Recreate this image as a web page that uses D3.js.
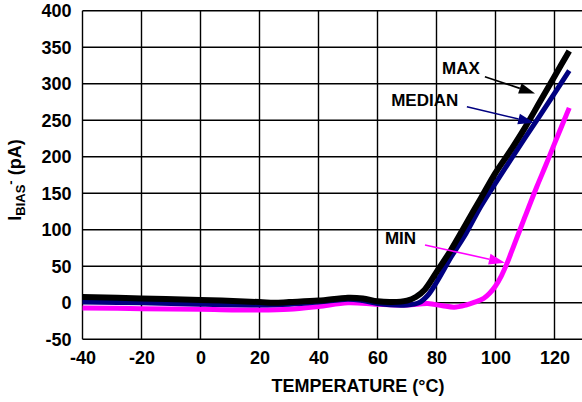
<!DOCTYPE html>
<html><head><meta charset="utf-8">
<script src="https://cdn.jsdelivr.net/npm/d3@7"></script>
<style>
html,body{margin:0;padding:0;background:#fff;overflow:hidden}
svg{display:block}
text{font-family:"Liberation Sans",Arial,sans-serif;font-weight:bold}
</style></head>
<body><svg id="c" width="582" height="402"></svg>
<script>
const xTicks = [-40,-20,0,20,40,60,80,100,120];
const yTicks = [-50,0,50,100,150,200,250,300,350,400];

const maxTemp = [-40,-20,0,20,25,30,40,50,55,60,65,70,73,76,80,85,90,95,100,105,110,115,120,125];
const maxVals = [8,6,4,1,0,1,3,7,6,2,1,3,8,18,42,73,108,143,178,208,240,275,310,345];

const medTemp = [-40,-20,0,20,30,40,50,55,60,70,74,77,80,85,90,95,100,105,110,115,120,125];
const medVals = [1,0,-2,-3,-2,1,5,3,-1,-3,0,10,28,63,95,132,164,195,226,256,287,318];

const minTemp = [-40,-20,0,20,30,40,50,60,70,77,82,86,90,93,96,98,100,102,104,106,108,110,114,117,120,125];
const minVals = [-7,-8,-9,-10,-9,-5,0,-2,-3,-1,-4,-6,-3,1,6,13,23,37,55,76,97,118,159,188,218,267];

const seriesNames = ["MIN","MEDIAN","MAX"];
const seriesColors = ["#ff00ff","#000080","#000000"];

// annotation: label anchor and arrow (data units)
const annLabels = ["MAX","MEDIAN","MIN"];
const annText = [[88.3,321],[76,276.5],[67.8,88.4]];
const annFrom = [[96.4,309.7],[90.3,268.6],[76.1,79.2]];
const annTo = [[113.4,286.8],[113.1,246.7],[103.2,55]];
const annColors = ["#000000","#000080","#ff00ff"];

const svg = d3.select("#c");
const x = d3.scaleLinear().domain([-40,130]).range([82.5,584]);
const y = d3.scaleLinear().domain([-50,400]).range([339.3,10.8]);
const xL = 82.5, xR = 582;
const fmt = d => String(d);

// grid
const g = svg.append("g");
g.selectAll(".hg").data(yTicks).enter().append("line")
  .attr("x1",xL).attr("x2",xR).attr("y1",d=>y(d)).attr("y2",d=>y(d))
  .attr("stroke","#000").attr("stroke-width",1.4);
g.selectAll(".vg").data(xTicks).enter().append("line")
  .attr("x1",d=>x(d)).attr("x2",d=>x(d)).attr("y1",y(400)).attr("y2",y(-50))
  .attr("stroke","#000").attr("stroke-width",1.4);

// axes labels via d3 axes
const yAxis = svg.append("g").attr("transform",`translate(${xL},0)`)
  .call(d3.axisLeft(y).tickValues(yTicks).tickFormat(fmt).tickSize(0).tickPadding(11));
yAxis.select(".domain").remove();
yAxis.selectAll("text").attr("font-size",18).attr("fill","#000")
  .style("font-family","'Liberation Sans',Arial,sans-serif").style("font-weight","bold");
const xAxis = svg.append("g").attr("transform",`translate(0,${y(-50)})`)
  .call(d3.axisBottom(x).tickValues(xTicks).tickFormat(fmt).tickSize(0).tickPadding(12));
xAxis.select(".domain").remove();
xAxis.selectAll("text").attr("font-size",18).attr("fill","#000")
  .style("font-family","'Liberation Sans',Arial,sans-serif").style("font-weight","bold");

// curves
const data = [
  minTemp.map((t,i)=>[t,minVals[i]]),
  medTemp.map((t,i)=>[t,medVals[i]]),
  maxTemp.map((t,i)=>[t,maxVals[i]])
];
const widths = [5,5,6];
const line = d3.line().x(d=>x(d[0])).y(d=>y(d[1])).curve(d3.curveCatmullRom.alpha(0.5));
data.forEach((s,i)=>{
  svg.append("path").datum(s).attr("d",line).attr("fill","none")
    .attr("stroke",seriesColors[i]).attr("stroke-width",widths[i])
    .attr("stroke-linejoin","round").attr("class","series-"+seriesNames[i]);
});

// annotations
annLabels.forEach((lab,i)=>{
  svg.append("text").attr("x",x(annText[i][0])).attr("y",y(annText[i][1]))
    .attr("text-anchor","middle").attr("dominant-baseline","central")
    .attr("font-size",17).attr("fill","#000").text(lab);
  const x1=x(annFrom[i][0]), y1=y(annFrom[i][1]), x2=x(annTo[i][0]), y2=y(annTo[i][1]);
  const ang=Math.atan2(y2-y1,x2-x1), L=16, W=5.5;
  const bx=x2-L*Math.cos(ang), by=y2-L*Math.sin(ang);
  svg.append("line").attr("x1",x1).attr("y1",y1).attr("x2",bx).attr("y2",by)
    .attr("stroke",annColors[i]).attr("stroke-width",1.6);
  const px=-Math.sin(ang), py=Math.cos(ang);
  svg.append("path").attr("d",`M${x2},${y2}L${bx+px*W},${by+py*W}L${bx-px*W},${by-py*W}Z`)
    .attr("fill",annColors[i]);
});

// axis titles
svg.append("text").attr("x",358).attr("y",392).attr("text-anchor","middle")
  .attr("font-size",18).attr("fill","#000").text("TEMPERATURE (°C)");
const yl = svg.append("text").attr("transform","translate(21,180) rotate(-90)")
  .attr("text-anchor","middle").attr("font-size",18).attr("fill","#000");
yl.append("tspan").text("I");
yl.append("tspan").attr("font-size",13).attr("dy",4).text("BIAS");
yl.append("tspan").attr("font-size",13).attr("dy",-10).text("-");
yl.append("tspan").attr("dy",6).text(" (pA)");
</script></body></html>
